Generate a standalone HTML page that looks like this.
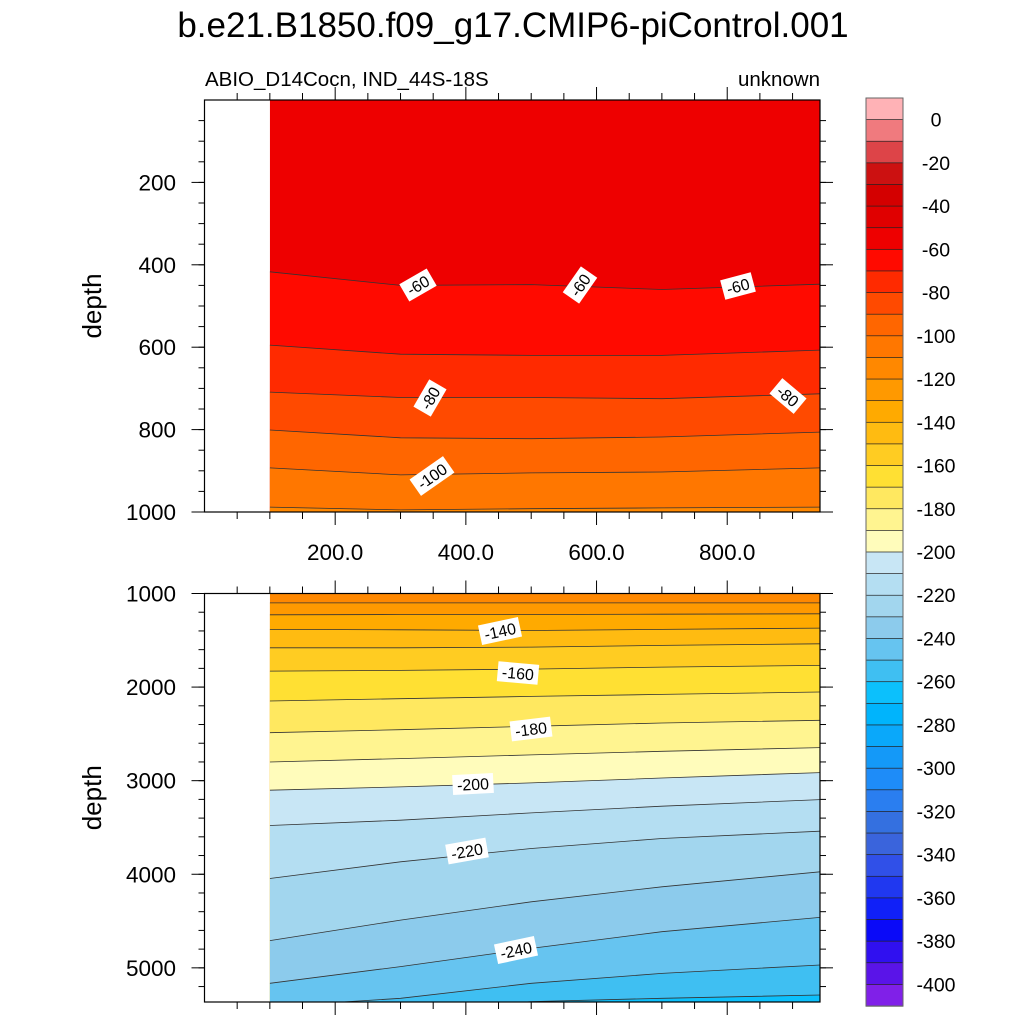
<!DOCTYPE html>
<html><head><meta charset="utf-8"><style>
body{margin:0;background:#fff;}
svg{display:block;font-family:"Liberation Sans",sans-serif;}
</style></head><body>
<svg id="chart" width="1024" height="1024" viewBox="0 0 1024 1024" xmlns="http://www.w3.org/2000/svg">
<text x="513" y="37" font-size="35" text-anchor="middle">b.e21.B1850.f09_g17.CMIP6-piControl.001</text>
<text x="205" y="86" font-size="20.5">ABIO_D14Cocn, IND_44S-18S</text>
<text x="820" y="86" font-size="20.5" text-anchor="end">unknown</text>
<g id="topPanel"></g><g id="botPanel"></g><g id="cbar"></g>
</svg>
<script>
const years = [100, 300, 500, 700, 942];
const topLevels = [-60, -70, -80, -90, -100, -110];
const topDepths = [
 [417, 450, 448, 460, 447],
 [595, 617, 620, 620, 607],
 [709, 722, 722, 725, 713],
 [801, 820, 822, 818, 806],
 [893, 910, 905, 903, 893],
 [988, 995, 992, 990, 988]
];
const botLevels = [-120,-130,-140,-150,-160,-170,-180,-190,-200,-210,-220,-230,-240,-250,-260];
const botDepths = [
 [1100,1100,1100,1100,1100],
 [1228,1224,1224,1221,1217],
 [1384,1388,1395,1384,1370],
 [1580,1580,1573,1555,1537],
 [1829,1822,1808,1786,1768],
 [2149,2124,2099,2078,2053],
 [2487,2455,2419,2384,2355],
 [2800,2764,2725,2686,2647],
 [3102,3067,3024,2971,2914],
 [3479,3422,3344,3273,3202],
 [4045,3867,3725,3618,3540],
 [4709,4490,4294,4134,3974],
 [5165,4987,4792,4614,4461],
 [5415,5325,5165,5059,4970],
 [5592,5457,5361,5325,5290]
];
const cbarLabels = [0,-20,-40,-60,-80,-100,-120,-140,-160,-180,-200,-220,-240,-260,-280,-300,-320,-340,-360,-380,-400];
const cbarColors = ['#ffb2b6','#f07a7e','#dd4448','#cc1111','#d40000','#e00000','#ee0000','#ff0a00','#ff2a00','#ff4a00','#ff6600','#ff7700','#ff8800','#ff9900','#ffaa00','#ffbb11','#ffcc22','#ffe033','#ffe860','#fff490','#fffcbb',
 '#c8e6f5','#b4def2','#a2d6ee','#8ccbec','#66c4f0','#3fbff2','#0cc0fc','#00b4fc','#0aa8fa','#1499f8','#1e8cf8','#2a7ef0','#3470e0','#3a64dc','#3050e8','#2038f0','#1020f8','#0a0af8','#3010f0','#5a14e8','#8020e8'];
const NS='http://www.w3.org/2000/svg';
function mk(tag, attrs, parent){const e=document.createElementNS(NS,tag);for(const k in attrs)e.setAttribute(k,attrs[k]);parent.appendChild(e);return e;}
const X0=204.5, X1=820, xmin=0, xmax=942;
const xs = v => X0 + (v-xmin)/(xmax-xmin)*(X1-X0);
function colorBelow(lv){ return cbarColors[Math.min(Math.round(-lv/10)+1, cbarColors.length-1)]; }

function panel(g, y0, y1, dmin, dmax, levels, depths, firstColor, ticksMaj, ticksMin, xlabels, name){
  const ys = d => y0 + (d-dmin)/(dmax-dmin)*(y1-y0);
  const clipId = 'clip'+name;
  const cp = mk('clipPath',{id:clipId},g);
  mk('rect',{x:xs(years[0]),y:y0,width:X1-xs(years[0]),height:y1-y0},cp);
  const fg = mk('g',{'clip-path':'url(#'+clipId+')'},g);
  const bg = mk('rect',{x:xs(years[0]),y:y0,width:X1-xs(years[0]),height:y1-y0,fill:firstColor},fg);
  
  
  const lines = levels.map((lv,k)=>{
    const pts = years.map((yr,i)=>[xs(yr), ys(depths[k][i])]);
    pts[pts.length-1][0]=X1;
    return 'M'+pts.map(p=>p[0].toFixed(1)+','+p[1].toFixed(1)).join(' L');
  });
  levels.forEach((lv,k)=>{
    const band = mk('path',{d:lines[k]+' L'+X1+','+(y1+40)+' L'+xs(years[0])+','+(y1+40)+' Z',fill:colorBelow(lv)},fg);
    
    
  });
  levels.forEach((lv,k)=>{
    const ln = mk('path',{d:lines[k],fill:'none',stroke:'#333','stroke-width':0.8},fg);
    
    
  });
  const fr = mk('rect',{x:X0,y:y0,width:X1-X0,height:y1-y0,fill:'none',stroke:'#000','stroke-width':1.2},g);
  
  
  ticksMin.forEach(v=>{const y=ys(v); if(y<y0-0.5||y>y1+0.5)return;
    mk('line',{x1:X0-6,x2:X0,y1:y,y2:y,stroke:'#000'},g); mk('line',{x1:X1,x2:X1+6,y1:y,y2:y,stroke:'#000'},g);});
  ticksMaj.forEach(v=>{const y=ys(v);
    mk('line',{x1:X0-13,x2:X0,y1:y,y2:y,stroke:'#000'},g); mk('line',{x1:X1,x2:X1+13,y1:y,y2:y,stroke:'#000'},g);
    const t=mk('text',{x:176,y:y+8,'font-size':22.5,'text-anchor':'end'},g); t.textContent=v;
    
    });
  for(let v=50; v<=940; v+=50){const x=xs(v); const maj=v%200===0; const L=maj?13:7;
    mk('line',{x1:x,x2:x,y1:y0-L,y2:y0,stroke:'#000'},g); mk('line',{x1:x,x2:x,y1:y1,y2:y1+L,stroke:'#000'},g);
    if(maj&&xlabels){const t=mk('text',{x:x,y:y1+48,'font-size':22.5,'text-anchor':'middle'},g); t.textContent=v.toFixed(1);
      
      }}
  const yt = mk('text',{x:0,y:0,'font-size':26,'text-anchor':'middle',transform:'translate(101,'+((y0+y1)/2)+') rotate(-90)'},g);
  yt.textContent='depth';
  
  
}
function label(g, x, y, rot, txt){
  const gg = mk('g',{transform:'translate('+x+','+y+') rotate('+rot+')'},g);
  
  
  const w = txt.length*9.2+4;
  mk('rect',{x:-w/2,y:-10,width:w,height:20,fill:'#fff'},gg);
  const t = mk('text',{x:0,y:6,'font-size':16,'text-anchor':'middle'},gg); t.textContent=txt;
}
const topG=document.getElementById('topPanel');


const botG=document.getElementById('botPanel');


const tmin=[]; for(let v=50;v<1000;v+=50) tmin.push(v);
panel(topG,100,512,0,1000,topLevels,topDepths,'#ee0000',[200,400,600,800,1000],tmin,true,'top');
const bmin=[]; for(let v=1000;v<5400;v+=200) bmin.push(v);
panel(botG,593.5,1002,1000,5365,botLevels,botDepths,'#ff8800',[1000,2000,3000,4000,5000],bmin,false,'bottom');
label(topG,418,285,-30,'-60'); label(topG,580,285,-55,'-60'); label(topG,738,286,-15,'-60');
label(topG,430,398,-60,'-80'); label(topG,788,396,40,'-80'); label(topG,432,476,-35,'-100');
label(botG,500,631,-12,'-140'); label(botG,518,673,5,'-160'); label(botG,531,729,-7,'-180');
label(botG,473,784,-3,'-200'); label(botG,467,851,-10,'-220'); label(botG,516,950,-12,'-240');
const cb=document.getElementById('cbar');


const CB0=98, CBH=908/42;
cbarColors.forEach((c,i)=>{
  const r=mk('rect',{x:866,y:CB0+i*CBH,width:37,height:CBH+0.3,fill:c,stroke:'#222','stroke-width':0.7},cb);
  
  
});
mk('rect',{x:866,y:CB0,width:37,height:908,fill:'none',stroke:'#666','stroke-width':1},cb);
cbarLabels.forEach(v=>{
  const y = CB0 + (1 + (-v)/10)*CBH;
  const t=mk('text',{x:936,y:y+7,'font-size':19.5,'text-anchor':'middle'},cb); t.textContent=v;
  
  
});
</script>
</body></html>
